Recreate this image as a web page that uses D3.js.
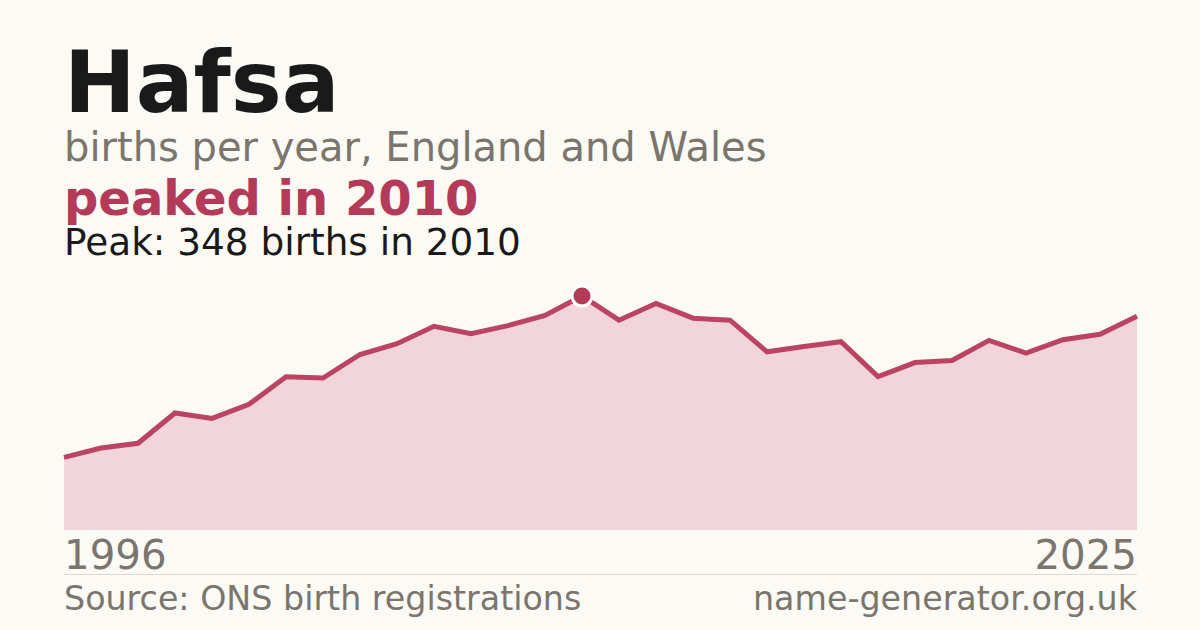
<!DOCTYPE html>
<html>
<head>
<meta charset="utf-8">
<script src="https://cdn.jsdelivr.net/npm/d3@7"></script>
<style>
  html, body { margin: 0; padding: 0; background: #fbfaf5; }
  svg { display: block; }
  text { font-family: "DejaVu Sans", sans-serif; }
</style>
</head>
<body>
<svg id="chart" width="1200" height="630"></svg>
<script>
const years = [1996,1997,1998,1999,2000,2001,2002,2003,2004,2005,2006,2007,2008,2009,2010,
               2011,2012,2013,2014,2015,2016,2017,2018,2019,2020,2021,2022,2023,2024,2025];
const births = [108,122,129,174,166,187,228,226,261,277,303,292,304,319,348,
                312,337,315,312,265,273,280,228,249,252,282,263,283,291,318];
const titleText = "Hafsa";
const subtitleText = "births per year, England and Wales";
const headlineText = "peaked in 2010";
const peakText = "Peak: 348 births in 2010";
const xTickLabels = ["1996", "2025"];
const sourceText = "Source: ONS birth registrations";
const siteText = "name-generator.org.uk";

const data = years.map((y, i) => ({ year: y, value: births[i] }));
const svg = d3.select("#chart");

svg.append("rect").attr("width", 1200).attr("height", 630).attr("fill", "#fbfaf5");

const x = d3.scaleLinear().domain(d3.extent(years)).range([64, 1137]);
const maxV = d3.max(births);
const y = d3.scaleLinear().domain([0, maxV]).range([530, 296]);

// area
const area = d3.area().x(d => x(d.year)).y0(y(0)).y1(d => y(d.value));
svg.append("path").datum(data).attr("d", area).attr("fill", "#f2d5da");

// line
const line = d3.line().x(d => x(d.year)).y(d => y(d.value));
svg.append("path").datum(data).attr("d", line)
  .attr("fill", "none").attr("stroke", "#bb4462").attr("stroke-width", 5)
  .attr("stroke-linejoin", "miter");

// peak marker
const peak = data.find(d => d.value === maxV);
svg.append("circle").attr("cx", x(peak.year)).attr("cy", y(peak.value)).attr("r", 10)
  .attr("fill", "#b33a58").attr("stroke", "#ffffff").attr("stroke-width", 3);

// texts
svg.append("text").attr("x", 64).attr("y", 112).text(titleText)
  .attr("font-size", 85.7).attr("font-weight", "bold").attr("fill", "#1a1a1a");
svg.append("text").attr("x", 64).attr("y", 161).text(subtitleText)
  .attr("font-size", 40).attr("fill", "#7a756d");
svg.append("text").attr("x", 64).attr("y", 215).text(headlineText)
  .attr("font-size", 48).attr("font-weight", "bold").attr("fill", "#b33a58");
svg.append("text").attr("x", 64).attr("y", 255).text(peakText)
  .attr("font-size", 37.4).attr("fill", "#1a1a1a");

// x labels
svg.append("text").attr("x", x(years[0])).attr("y", 569).text(xTickLabels[0])
  .attr("font-size", 40.3).attr("fill", "#7a756d");
svg.append("text").attr("x", x(years[years.length - 1])).attr("y", 569).text(xTickLabels[1])
  .attr("font-size", 40.3).attr("fill", "#7a756d").attr("text-anchor", "end");

// separator
svg.append("line").attr("x1", 64).attr("x2", 1137).attr("y1", 574.5).attr("y2", 574.5)
  .attr("stroke", "#dcd9d2").attr("stroke-width", 1);

// footer
svg.append("text").attr("x", 64).attr("y", 610).text(sourceText)
  .attr("font-size", 33.3).attr("fill", "#7a756d");
svg.append("text").attr("x", 1137).attr("y", 610).text(siteText)
  .attr("font-size", 33.3).attr("fill", "#7a756d").attr("text-anchor", "end");
</script>
</body>
</html>
